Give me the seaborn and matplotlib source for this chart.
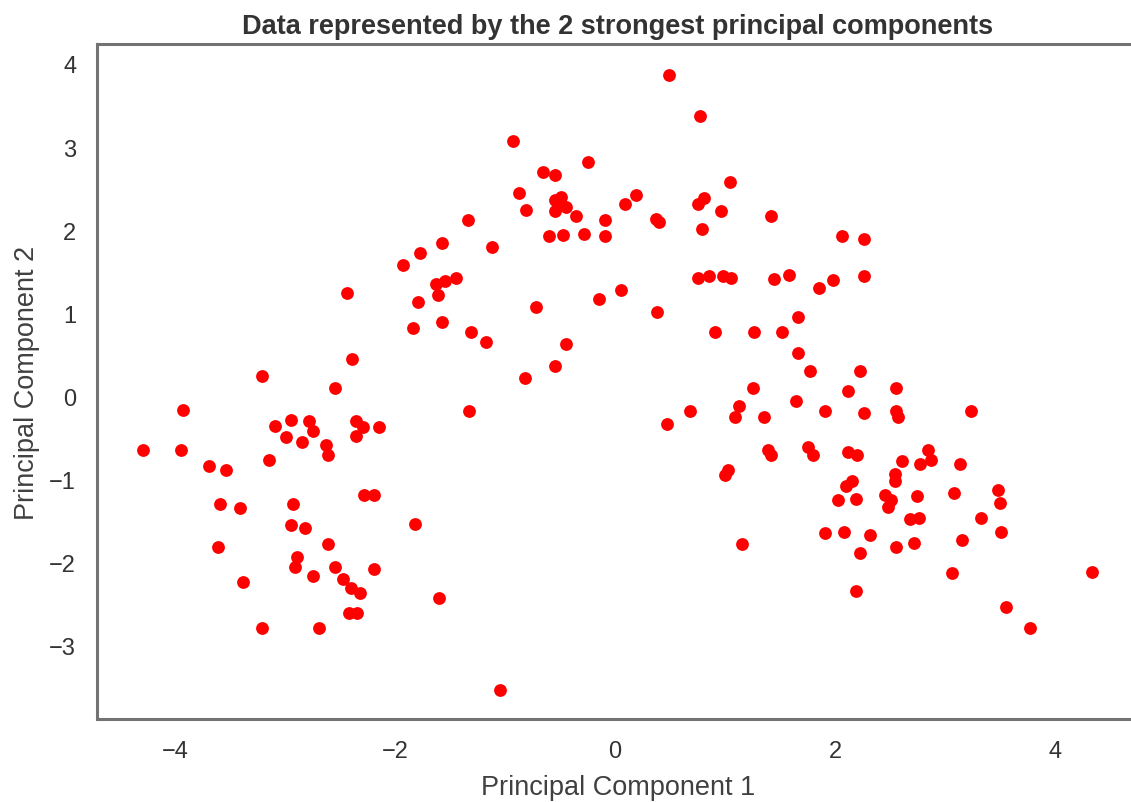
import matplotlib
matplotlib.use("Agg")
import matplotlib.pyplot as plt
import seaborn as sns
import pandas as pd

# ── Data: two strongest principal components ─────────────────────────────────

pc1 = [
    # left group
    -4.29, -3.93, -3.95, -3.69, -3.54, -3.59, -3.41, -3.61, -3.38, -3.21,
    -3.21, -3.09, -2.95, -2.78, -2.75, -2.99, -2.85, -2.63, -2.61, -3.15,
    -2.93, -2.95, -2.82, -2.89, -2.91, -2.61, -2.55, -2.75, -2.47, -2.40,
    -2.32, -2.42, -2.35, -2.69, -2.44, -2.39, -2.55, -2.36, -2.29, -2.15,
    -2.36, -2.28, -2.19, -2.19, -1.82, -1.60, -1.05, -1.33,
    # middle arch
    -1.93, -1.77, -1.57, -1.34, -1.12, -1.45, -1.63, -1.55, -1.61, -1.79,
    -1.84, -1.57, -1.31, -1.17, -0.72, -0.82, -0.55, -0.45, -0.15, 0.05,
    -0.93, -0.25, -0.66, -0.55, -0.87, -0.81, -0.49, -0.55, -0.45, -0.55,
    -0.50, -0.36, -0.09, -0.60, -0.47, -0.28, -0.09,
    0.49, 0.77, 1.04, 0.19, 0.09, 0.81, 0.75, 0.37, 0.40, 0.96,
    0.79, 1.42, 2.06, 2.26,
    0.75, 0.85, 0.98, 1.05, 1.44, 1.58, 2.26,
    1.98, 1.85, 0.38, 1.66, 0.91, 1.26, 1.52, 1.66, 1.77, 2.23,
    1.25, 2.12, 1.64, 1.13, 0.68, 1.91, 2.26, 1.09, 1.35, 0.47,
    1.39, 1.42, 1.75, 1.80, 2.12, 2.20, 1.03, 1.00, 2.15, 2.10,
    2.03, 2.19, 1.15, 1.91, 2.08, 2.32, 2.23, 2.19,
    # right group
    2.55, 3.24, 2.55, 2.57, 2.84, 2.87, 2.61, 2.77, 3.14, 2.54,
    2.54, 2.45, 2.51, 2.74, 3.08, 3.48, 3.50, 2.48, 2.68, 2.76,
    3.33, 3.51, 3.15, 2.72, 2.55, 3.06, 4.34, 3.55, 3.77,
]

pc2 = [
    # left group
    -0.65, -0.16, -0.65, -0.84, -0.88, -1.30, -1.34, -1.81, -2.23, -2.78,
    0.24, -0.35, -0.28, -0.30, -0.41, -0.49, -0.55, -0.58, -0.71, -0.76,
    -1.30, -1.55, -1.58, -1.93, -2.05, -1.78, -2.05, -2.16, -2.20, -2.31,
    -2.37, -2.60, -2.60, -2.78, 1.25, 0.45, 0.10, -0.30, -0.37, -0.37,
    -0.48, -1.18, -1.18, -2.08, -1.53, -2.43, -3.53, -0.18,
    # middle arch
    1.58, 1.72, 1.84, 2.12, 1.80, 1.42, 1.35, 1.39, 1.22, 1.14,
    0.82, 0.90, 0.77, 0.66, 1.07, 0.22, 0.37, 0.63, 1.17, 1.28,
    3.07, 2.82, 2.70, 2.66, 2.45, 2.24, 2.40, 2.36, 2.28, 2.23,
    2.33, 2.17, 2.12, 1.93, 1.94, 1.95, 1.93,
    3.87, 3.37, 2.58, 2.42, 2.31, 2.39, 2.31, 2.14, 2.10, 2.23,
    2.02, 2.17, 1.93, 1.89,
    1.42, 1.45, 1.45, 1.43, 1.41, 1.46, 1.45,
    1.40, 1.30, 1.02, 0.95, 0.77, 0.77, 0.77, 0.52, 0.31, 0.31,
    0.10, 0.07, -0.05, -0.12, -0.18, -0.18, -0.20, -0.25, -0.25, -0.33,
    -0.65, -0.71, -0.61, -0.71, -0.67, -0.71, -0.89, -0.95, -1.02, -1.08,
    -1.24, -1.23, -1.78, -1.64, -1.63, -1.67, -1.88, -2.34,
    # right group
    0.10, -0.17, -0.17, -0.25, -0.65, -0.76, -0.78, -0.81, -0.81, -0.93,
    -1.02, -1.18, -1.24, -1.20, -1.16, -1.13, -1.28, -1.33, -1.48, -1.46,
    -1.46, -1.63, -1.73, -1.76, -1.81, -2.13, -2.11, -2.53, -2.78,
]

df = pd.DataFrame({"Principal Component 1": pc1, "Principal Component 2": pc2})

# ── Styling ───────────────────────────────────────────────────────────────────

sns.set_style("white")
plt.rcParams["font.family"] = ["Liberation Sans", "DejaVu Sans"]

fig = plt.figure(figsize=(11.31, 8.03), dpi=100)
ax = fig.add_axes([0.0858, 0.1034, 0.921, 0.8406])

sns.scatterplot(data=df, x="Principal Component 1", y="Principal Component 2",
                color="red", s=85, linewidth=0, ax=ax)

ax.set_xlim(-4.71, 4.76)
ax.set_ylim(-3.88, 4.24)
ax.set_xticks([-4, -2, 0, 2, 4])
ax.set_yticks([-3, -2, -1, 0, 1, 2, 3, 4])

for side in ax.spines.values():
    side.set_edgecolor("0.45")
    side.set_linewidth(2.2)

ax.tick_params(axis="x", labelsize=17, labelcolor="0.2", length=0, pad=15)
ax.tick_params(axis="y", labelsize=17, labelcolor="0.2", length=0, pad=15)
ax.set_xlabel("Principal Component 1", fontsize=19.5, color="0.25", labelpad=9)
ax.set_ylabel("Principal Component 2", fontsize=19.5, color="0.25", labelpad=7)
ax.set_title("Data represented by the 2 strongest principal components",
             fontsize=19.5, fontweight="bold", color="0.2", pad=8)

fig.savefig("out.png", dpi=100)
